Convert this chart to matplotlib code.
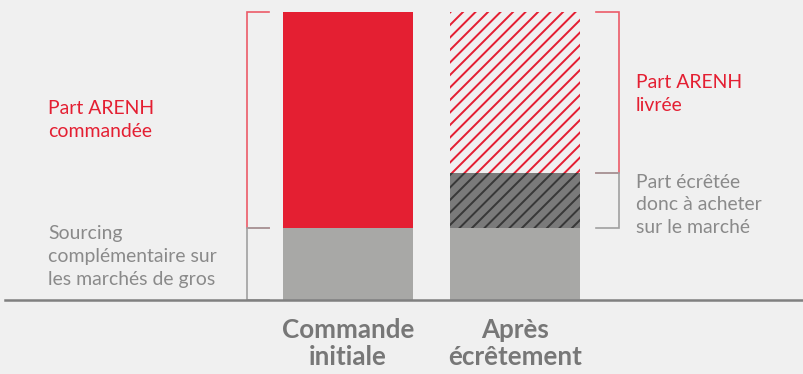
import matplotlib
matplotlib.use("Agg")
import matplotlib.pyplot as plt

# données (total = 100)
categories = ["Commande\ninitiale", "Après\nécrêtement"]
sourcing = [25, 25]
arenh_commandee = [75, 0]
ecretee = [0, 19]
arenh_livree = [0, 56]

RED = "#e41f32"
GREY = "#a8a8a6"
DARK = "#7a7a7a"
TXT_GREY = "#8a8a8a"
BG = "#f0f0f0"

DPI = 75
plt.rcParams["font.family"] = ["Lato", "DejaVu Sans"]
plt.rcParams["hatch.linewidth"] = 1.9

fig = plt.figure(figsize=(803 / DPI, 374 / DPI), dpi=DPI, facecolor=BG)
ax = fig.add_axes([0, 74 / 374, 1, 288 / 374])
ax.set_facecolor(BG)

x = [0, 1]
w = 130 / 167

ax.bar(x, sourcing, width=w, color=GREY, linewidth=0)
ax.bar(x[0], arenh_commandee[0], bottom=sourcing[0], width=w, color=RED, linewidth=0)
ax.bar(x[1], ecretee[1], bottom=sourcing[1], width=w, color=DARK,
       edgecolor="#383838", hatch="//", linewidth=0)
ax.bar(x[1], arenh_livree[1], bottom=sourcing[1] + ecretee[1], width=w,
       color="none", edgecolor=RED, hatch="//", linewidth=0)

# accolades
def bracket(xv, xt, y0, y1, color):
    ax.plot([xt, xv, xv, xt], [y1, y1, y0, y0], color=color, lw=1.6,
            solid_joinstyle="miter", clip_on=False)

top0 = sourcing[0] + arenh_commandee[0]
bracket(-0.607, -0.473, sourcing[0], top0, "#ec5a68")
bracket(-0.607, -0.473, 0, sourcing[0], "#a0a0a0")
top1 = sourcing[1] + ecretee[1] + arenh_livree[1]
bracket(1.621, 1.487, sourcing[1] + ecretee[1], top1, "#ec5a68")
bracket(1.621, 1.487, sourcing[1], sourcing[1] + ecretee[1], "#a0a0a0")

fs = 18.6
ls = 1.42
ax.text(-1.796, (sourcing[0] + top0) / 2, "Part ARENH\ncommandée", color=RED,
        fontsize=fs, va="center", ha="left", linespacing=ls)
ax.text(-1.796, 15, "Sourcing\ncomplémentaire sur\nles marchés de gros",
        color=TXT_GREY, fontsize=fs, va="center", ha="left", linespacing=ls)
ax.text(1.725, 71.5, "Part ARENH\nlivrée", color=RED,
        fontsize=fs, va="center", ha="left", linespacing=ls)
ax.text(1.725, 33, "Part écrêtée\ndonc à acheter\nsur le marché",
        color=TXT_GREY, fontsize=fs, va="center", ha="left", linespacing=ls)

# ligne de base
ax.axhline(0, xmin=5 / 803, xmax=1, color="#808080", lw=2.4, clip_on=False)

ax.set_xlim(-348 / 167, (803 - 348) / 167)
ax.set_ylim(0, 100)
ax.set_xticks(x)
ax.set_xticklabels(categories, fontsize=25, fontweight="bold", color="#777777",
                   linespacing=1.18)
ax.tick_params(axis="x", length=0, pad=17)
ax.set_yticks([])
for s in ax.spines.values():
    s.set_visible(False)

fig.savefig("out.png", dpi=DPI, facecolor=BG)
